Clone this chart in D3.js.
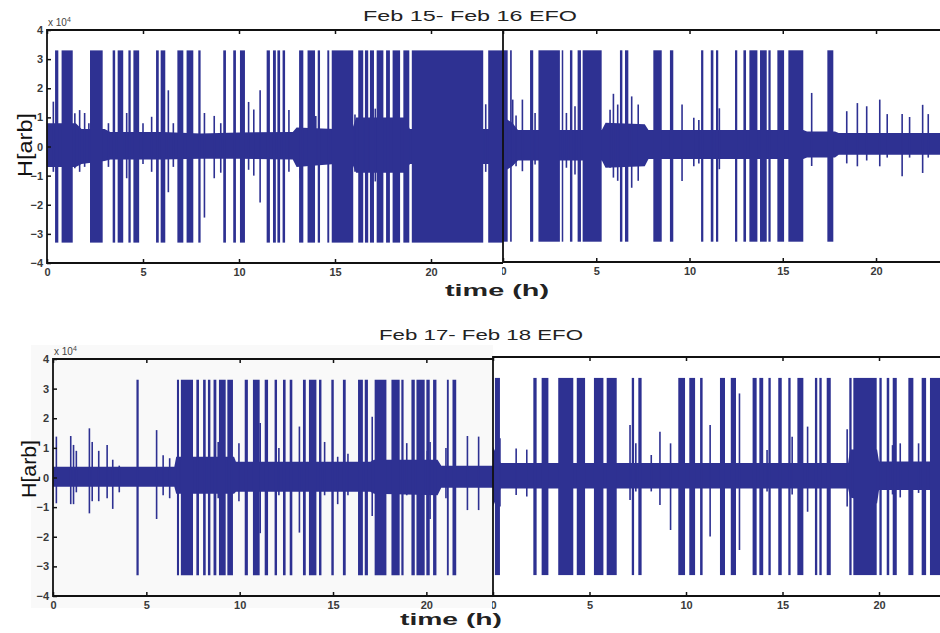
<!DOCTYPE html>
<html>
<head>
<meta charset="utf-8">
<script src="https://cdn.jsdelivr.net/npm/d3@7"></script>
<style>
  body { margin: 0; background: #fff; }
  svg { display: block; font-family: "Liberation Sans", Arial, sans-serif; }
</style>
</head>
<body>
<svg id="chart" width="940" height="633"></svg>
<script>
// shared ticks
const timeTicks = [0, 5, 10, 15, 20]
const ampTicks = [-4, -3, -2, -1, 0, 1, 2, 3, 4]
const railLevel = 3.3   // sensor saturates at about +-3.3 x 10^4

// ---- Feb 15 (top left) ----
// saturated bursts [t start, t end] in hours
const satA = [[0.42,0.59],[0.76,1.34],[2.24,2.90],[3.42,3.55],[3.68,3.97],[4.24,4.36],[4.5,4.8],
  [5.68,5.82],[5.92,6.16],[6.79,7.1],[7.27,7.62],[7.88,8.0],[9.18,9.32],[9.7,9.84],[10.05,10.31],
  [11.44,11.61],[11.77,11.92],[12.0,12.14],[12.27,12.4],[13.13,13.35],[13.57,13.96],[14.1,14.22],
  [14.6,14.7],[14.83,15.95],[16.21,16.47],[16.56,16.73],[16.82,17.03],[17.17,17.52],[17.66,17.86],
  [18.0,18.39],[18.56,18.87],[19.0,22.72],[22.98,23.75]]
// single spikes [t, high, low]
const spikesA = [[0.33,1.54,-0.87],[1.45,1.14,-0.75],[1.7,1.25,-0.87],[1.96,1.15,-0.7],[2.18,0.8,-0.5],
  [3.2,0.8,-0.7],[4.15,1.15,-1.09],[5.0,0.8,-0.6],[5.45,1.02,-0.87],[6.32,1.93,-1.57],[6.58,0.8,-0.7],
  [8.2,1.15,-2.44],[8.71,1.05,-1.09],[9.05,0.8,-0.9],[10.5,1.53,-0.8],[10.77,1.27,-1.0],[11.1,1.93,-1.92],
  [12.6,1.25,-0.87],[13.2,0.7,-1.09],[14.0,1.05,-0.6],[16.04,1.1,-0.87],[17.1,1.3,-1.2],[22.85,1.45,-0.87]]
// background noise envelope [t, upper, lower]
const envA = [[0,0.8,-0.7],[1.5,0.8,-0.7],[1.8,0.6,-0.6],[3.0,0.6,-0.5],[3.3,0.5,-0.45],[6.0,0.5,-0.45],
  [8.0,0.45,-0.42],[10.0,0.48,-0.42],[12.8,0.5,-0.45],[13.0,0.65,-0.7],[15.0,0.6,-0.6],[15.9,0.6,-0.6],
  [16.1,1.0,-0.9],[18.6,1.0,-0.9],[18.9,0.6,-0.6],[23.75,0.6,-0.6]]

// ---- Feb 16 (top right) ----
const satB = [[0,0.25],[0.38,0.47],[1.45,1.62],[1.9,3.05],[3.15,3.23],[3.59,3.72],[4.0,4.18],[4.27,5.29],
  [6.27,6.4],[6.54,6.72],[8.06,8.51],[8.95,9.13],[10.62,10.74],[11.14,11.28],[11.42,11.54],[12.44,12.56],
  [12.89,13.03],[13.21,13.64],[13.78,14.14],[14.23,14.35],[14.71,15.07],[15.3,16.1],[17.39,17.71]]
const spikesB = [[0.52,1.6,-0.64],[0.7,1.05,-0.7],[1.04,1.6,-0.87],[1.72,1.14,-0.64],[3.4,1.14,-0.75],
  [3.86,1.37,-0.98],[5.74,1.25,-0.75],[5.92,1.8,-1.09],[6.15,1.43,-1.2],[6.9,1.71,-1.44],[7.25,1.43,-1.2],
  [9.6,1.43,-1.21],[10.23,0.97,-0.7],[10.5,0.9,-0.6],[11.2,2.23,-1.04],[11.6,1.3,-0.8],[16.55,1.83,-0.69],
  [18.43,1.2,-0.6],[19.0,1.48,-0.7],[19.5,1.37,-0.5],[20.2,1.6,-0.7],[20.6,1.1,-0.4],[21.4,1.1,-1.04],
  [21.8,1.0,-0.4],[22.5,1.42,-0.93],[22.8,1.1,-0.4]]
const envB = [[0,1.0,-0.9],[0.5,0.8,-0.7],[0.8,0.55,-0.5],[5.3,0.55,-0.5],[5.5,0.8,-0.75],[7.6,0.75,-0.7],
  [7.8,0.55,-0.45],[16.1,0.55,-0.45],[16.3,0.5,-0.4],[17.8,0.5,-0.4],[18.0,0.45,-0.3],[23.5,0.45,-0.3]]

// ---- Feb 17 (bottom left) ----
const satC = [[4.47,4.59],[6.64,6.75],[6.85,7.5],[7.68,7.82],[8.04,8.18],[8.3,8.43],[8.6,8.75],[8.89,9.25],
  [9.34,9.64],[10.27,10.44],[10.71,11.07],[11.34,11.52],[11.87,12.0],[12.32,12.46],[12.68,12.82],
  [13.39,13.54],[13.71,14.11],[14.25,14.38],[14.91,15.04],[15.53,15.68],[16.34,16.6],[16.7,16.87],
  [17.23,17.86],[18.13,18.57],[18.66,18.78],[19.2,19.38],[19.47,19.91],[20.0,20.18],[20.36,20.54],
  [21.1,21.2],[21.4,21.6]]
const spikesC = [[0.18,1.38,-0.87],[0.95,1.4,-0.9],[1.1,1.1,-0.9],[1.25,0.9,-0.5],[1.95,1.66,-1.21],
  [2.1,1.2,-0.8],[2.45,0.9,-0.8],[2.9,1.1,-0.7],[3.2,0.6,-1.06],[3.55,0.4,-0.5],[5.55,1.6,-1.4],
  [5.9,0.75,-0.6],[6.25,0.65,-0.7],[8.85,1.2,-0.7],[9.45,2.28,-3.0],[9.96,1.16,-0.8],[11.1,1.84,-1.88],
  [12.1,1.0,-0.6],[13.2,1.72,-1.86],[14.55,1.2,-0.6],[15.25,0.7,-0.9],[15.8,0.8,-0.6],[17.1,2.05,-1.3],
  [18.95,1.16,-0.6],[20.05,0.9,-2.45],[20.2,1.2,-1.4],[21.05,1.0,-0.7],[22.2,1.4,-1.1],[22.8,1.38,-1.1]]
const envC = [[0,0.36,-0.31],[6.5,0.36,-0.31],[6.6,0.7,-0.55],[9.7,0.7,-0.55],[9.8,0.53,-0.48],
  [17.0,0.53,-0.48],[17.2,0.6,-0.55],[20.6,0.6,-0.6],[20.8,0.4,-0.35],[23.6,0.4,-0.35]]

// ---- Feb 18 (bottom right) ----
const satD = [[0.1,0.36],[2.09,2.26],[2.52,2.87],[3.38,4.16],[4.34,4.77],[5.23,5.72],[5.89,6.41],[7.19,7.31],
  [7.53,7.7],[9.6,9.95],[10.17,10.47],[10.73,10.86],[11.76,12.02],[12.32,12.59],[13.45,13.66],[13.8,14.0],
  [14.27,14.39],[14.78,14.96],[15.3,15.42],[15.77,16.08],[16.68,16.8],[16.91,17.03],[17.29,17.5],
  [18.46,18.58],[18.67,19.88],[20.02,20.14],[20.4,20.53],[20.71,20.92],[21.52,21.78],[22.21,22.44],
  [22.64,23.2]]
const spikesD = [[0.36,1.28,-1.0],[1.2,0.94,-0.62],[1.75,0.9,-0.67],[7.1,1.72,-0.79],[7.4,1.11,-0.5],
  [8.2,0.72,-0.5],[8.65,1.5,-0.95],[9.2,1.11,-1.79],[11.25,1.72,-2.01],[12.77,2.78,-2.46],[14.2,0.89,-0.5],
  [15.5,1.33,-0.6],[16.3,1.67,-1.18],[18.35,1.58,-1.0],[20.7,1.05,-0.6],[21.1,1.11,-0.7],[22.05,1.11,-0.55]]
const envD = [[0,1.0,-1.0],[0.4,0.45,-0.4],[18.4,0.45,-0.4],[18.5,0.9,-0.7],[19.9,0.9,-0.9],
  [20.0,0.5,-0.45],[23.2,0.5,-0.45]]

const blue = "#2e3192"
const svg = d3.select("#chart")
const defs = svg.append("defs")

// panel frames as placed in the original figure (right panels pasted over left ones)
let panels = [
  {left: 47, right: 503, top: 30, bottom: 263, tMax: 23.75, sat: satA, spikes: spikesA, env: envA, yAxis: true},
  {left: 503, right: 940, top: 30, bottom: 262, tMax: 23.43, sat: satB, spikes: spikesB, env: envB, cut: true},
  {left: 53, right: 493, top: 359, bottom: 596, tMax: 23.57, sat: satC, spikes: spikesC, env: envC, yAxis: true, bg: "#f9f9f9"},
  {left: 493, right: 940, top: 357, bottom: 596, tMax: 23.16, sat: satD, spikes: spikesD, env: envD, cut: true}
]

panels.forEach((p, i) => {
  let x = d3.scaleLinear().domain([0, p.tMax]).range([p.left, p.right])
  let y = d3.scaleLinear().domain([-4, 4]).range([p.bottom, p.top])

  let g = svg.append("g")
  if (p.cut) {
    defs.append("clipPath").attr("id", "cut" + i).append("rect")
      .attr("x", p.left - 1).attr("y", 0).attr("width", 940).attr("height", 633)
    g.attr("clip-path", `url(#cut${i})`)
  }
  defs.append("clipPath").attr("id", "plot" + i).append("rect")
    .attr("x", p.left).attr("y", p.top).attr("width", p.right - p.left).attr("height", p.bottom - p.top)

  if (p.bg) {
    g.append("rect")
      .attr("x", p.left - 22).attr("y", p.top - 14)
      .attr("width", p.right - p.left + 22).attr("height", p.bottom - p.top + 26)
      .attr("fill", p.bg)
  }

  let plot = g.append("g").attr("clip-path", `url(#plot${i})`)

  // noise band
  let area = d3.area()
    .x(d => x(d[0]))
    .y0(d => y(d[2]))
    .y1(d => y(d[1]))
  plot.append("path").datum(p.env).attr("d", area).attr("fill", blue)

  // saturated bursts
  plot.selectAll("rect.sat").data(p.sat).join("rect")
    .attr("class", "sat")
    .attr("x", d => x(d[0]))
    .attr("width", d => Math.max(1.5, x(d[1]) - x(d[0])))
    .attr("y", y(railLevel))
    .attr("height", y(-railLevel) - y(railLevel))
    .attr("fill", blue)

  // isolated spikes
  plot.selectAll("line.spike").data(p.spikes).join("line")
    .attr("class", "spike")
    .attr("x1", d => x(d[0])).attr("x2", d => x(d[0]))
    .attr("y1", d => y(d[1])).attr("y2", d => y(d[2]))
    .attr("stroke", blue).attr("stroke-width", 1.6)

  // axes, matlab style: inward ticks
  let xb = g.append("g").attr("transform", `translate(0,${p.bottom})`)
    .call(d3.axisBottom(x).tickValues(timeTicks).tickSize(-4).tickSizeOuter(0).tickPadding(5))
  let xt = g.append("g").attr("transform", `translate(0,${p.top})`)
    .call(d3.axisTop(x).tickValues(timeTicks).tickSize(-4).tickSizeOuter(0).tickFormat(""))
  let axes = [xb, xt]
  if (p.yAxis) {
    let ya = g.append("g").attr("transform", `translate(${p.left},0)`)
      .call(d3.axisLeft(y).tickValues(ampTicks).tickSize(-4).tickSizeOuter(0).tickPadding(4))
    axes.push(ya)
    g.append("text")
      .attr("x", p.left + 1).attr("y", p.top - 4)
      .attr("font-size", 10).attr("fill", "#444")
      .text("x 10")
      .append("tspan").attr("dy", -4).attr("font-size", 7).text("4")
  }
  axes.forEach(a => {
    a.select(".domain").remove()
    a.selectAll(".tick line").attr("stroke", "#111").attr("stroke-width", 1.5)
    a.selectAll(".tick text")
      .attr("font-size", 11).attr("font-weight", "bold").attr("fill", "#3a3a3a")
      .attr("font-family", "Liberation Sans, Arial, sans-serif")
  })

  // frame (right edge of right panels lies outside the picture)
  let frame = d3.path()
  frame.moveTo(p.right + (p.cut ? 2 : 0), p.top)
  frame.lineTo(p.left, p.top)
  frame.lineTo(p.left, p.bottom)
  frame.lineTo(p.right + (p.cut ? 2 : 0), p.bottom)
  g.append("path").attr("d", frame.toString())
    .attr("fill", "none").attr("stroke", "#111").attr("stroke-width", 1.8)
})

// titles and labels
let labels = [
  {text: "Feb 15- Feb 16 EFO", x: 470, y: 21, len: 214, size: 15, weight: "normal"},
  {text: "Feb 17- Feb 18 EFO", x: 481, y: 340, len: 204, size: 15, weight: "normal"},
  {text: "time (h)", x: 497, y: 296, len: 104, size: 16, weight: "bold"},
  {text: "time (h)", x: 451, y: 625, len: 102, size: 16, weight: "bold"}
]
labels.forEach(l => {
  svg.append("text")
    .attr("x", l.x).attr("y", l.y)
    .attr("text-anchor", "middle")
    .attr("font-size", l.size).attr("font-weight", l.weight)
    .attr("fill", "#222")
    .attr("textLength", l.len).attr("lengthAdjust", "spacingAndGlyphs")
    .text(l.text)
})

let yLabels = [{x: 32, y: 145, len: 64}, {x: 36, y: 469, len: 58}]
yLabels.forEach(l => {
  svg.append("text")
    .attr("transform", `translate(${l.x},${l.y}) rotate(-90)`)
    .attr("text-anchor", "middle")
    .attr("font-size", 20).attr("fill", "#111")
    .attr("textLength", l.len).attr("lengthAdjust", "spacingAndGlyphs")
    .text("H[arb]")
})
</script>
</body>
</html>
